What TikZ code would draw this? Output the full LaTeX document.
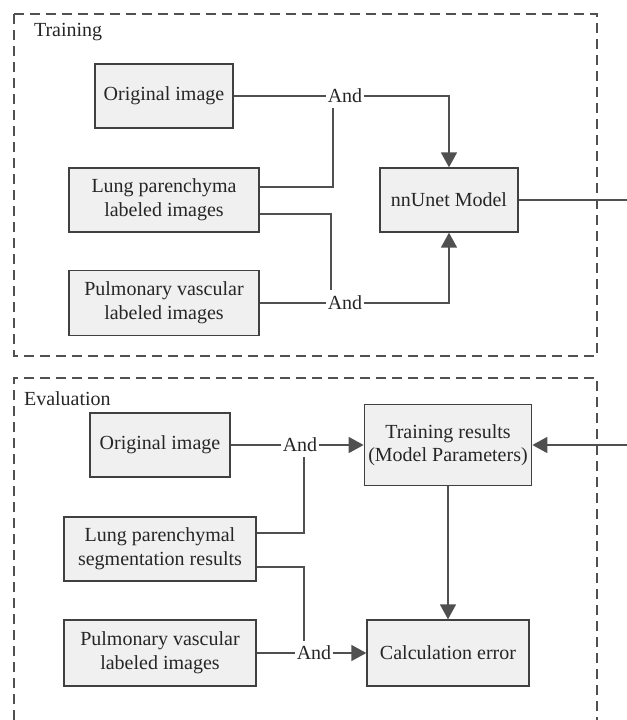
\documentclass[tikz,border=0pt]{standalone}
\usepackage{amsmath}
\usepackage{fontspec}
\setmainfont{Liberation Serif}
\usetikzlibrary{arrows.meta}
\definecolor{boxfill}{RGB}{239,240,239}
\definecolor{boxline}{RGB}{64,64,64}
\definecolor{wire}{RGB}{80,80,80}
\begin{document}
\begin{tikzpicture}[x=0.5pt, y=-0.5pt, every node/.style={font=\fontsize{10}{11.8}\selectfont, text=black!85}]
    \tikzstyle{block} = [rectangle, draw=boxline, line width=0.7pt, fill=boxfill, align=center, inner sep=2pt]
    \tikzstyle{line} = [draw=wire, line width=0.6pt]
    \tikzstyle{arrow} = [draw=wire, line width=0.85pt, -{Triangle[length=7.5pt, width=8pt]}]
    \tikzstyle{frame} = [draw=wire, line width=0.6pt, dash pattern=on 5pt off 3pt]
    \tikzstyle{gate} = [inner sep=0.5pt]
    \useasboundingbox (0,0) rectangle (627,720);
    % training part
    \draw[frame] (14,14) rectangle (597,356);
    \node[anchor=west] (trainlbl) at (27,32) {Training};
    \node[block, minimum width=69pt, minimum height=32pt] (orig) at (164,96) {Original image};
    \node[block, minimum width=95pt, minimum height=32pt] (lung) at (164,200) {Lung parenchyma\\labeled images};
    \node[block, minimum width=95pt, minimum height=32.5pt] (pulm) at (164,303) {Pulmonary vascular\\labeled images};
    \node[block, minimum width=69pt, minimum height=32pt] (nnunet) at (449,200) {nnUnet Model};
    \node[gate] (and1) at (345,96) {And};
    \node[gate] (and2) at (345,303) {And};
    \coordinate (j1) at (333,108);
    \coordinate (j2) at (331,290);
    \coordinate (outT) at (627,200);
    \draw[line] (orig.east) -- (and1.west);
    \draw[line] ([yshift=6.5pt]lung.east) -| (j1);
    \draw[line] ([yshift=-7pt]lung.east) -| (j2);
    \draw[line] (pulm.east) -- (and2.west);
    \draw[arrow] (and1.east) -| (nnunet.north);
    \draw[arrow] (and2.east) -| (nnunet.south);
    \draw[line] (nnunet.east) -- (outT);
    % evaluation part
    \draw[frame] (14,720) -- (14,378) -- (597,378) -- (597,720);
    \node[anchor=west] (evallbl) at (17,399) {Evaluation};
    \node[block, minimum width=70pt, minimum height=32pt] (orig2) at (160,445) {Original image};
    \node[block, minimum width=96pt, minimum height=32pt] (lung2) at (160,549) {Lung parenchymal\\segmentation results};
    \node[block, minimum width=96pt, minimum height=33pt] (pulm2) at (160,653) {Pulmonary vascular\\labeled images};
    \node[block, minimum width=81pt, minimum height=40.5pt] (train) at (448,445) {Training results\\(Model Parameters)};
    \node[block, minimum width=81pt, minimum height=33pt] (calc) at (448,653) {Calculation error};
    \node[gate] (and3) at (300,445) {And};
    \node[gate] (and4) at (314,653) {And};
    \coordinate (j3) at (304,457);
    \coordinate (j4) at (304,641);
    \coordinate (inE) at (627,445);
    \draw[line] (orig2.east) -- (and3.west);
    \draw[line] ([yshift=8pt]lung2.east) -| (j3);
    \draw[line] ([yshift=-9pt]lung2.east) -| (j4);
    \draw[line] (pulm2.east) -- (and4.west);
    \draw[arrow] (and3.east) -- (train.west);
    \draw[arrow] (and4.east) -- (calc.west);
    \draw[arrow] (train.south) -- (calc.north);
    \draw[arrow] (inE) -- (train.east);
\end{tikzpicture}
\end{document}
